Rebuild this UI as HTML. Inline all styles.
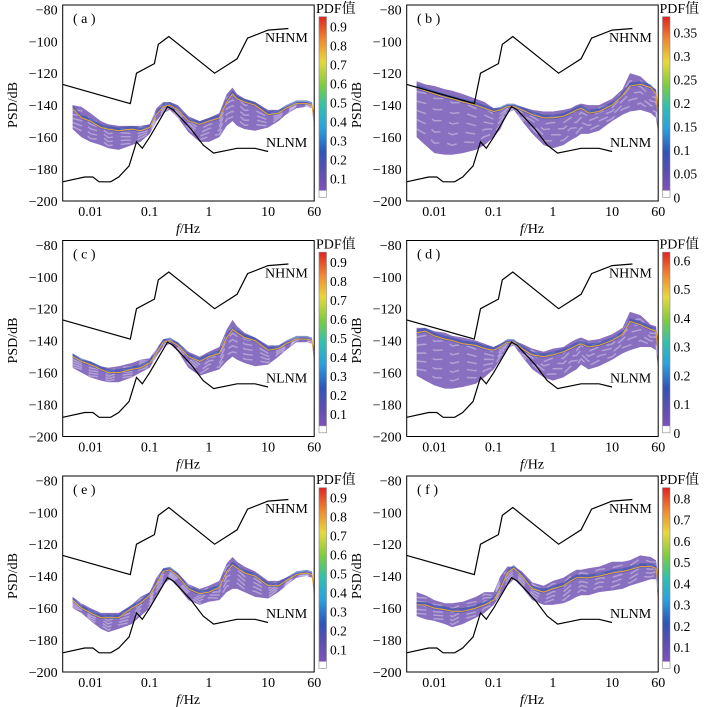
<!DOCTYPE html>
<html><head><meta charset="utf-8">
<style>
body{margin:0;background:#fff;}
svg{display:block;font-family:"Liberation Serif","Noto Serif CJK SC",serif;}
</style></head>
<body>
<svg id="fig" width="717" height="707" viewBox="0 0 717 707" xmlns="http://www.w3.org/2000/svg">
<defs>
<linearGradient id="cbg" x1="0" y1="1" x2="0" y2="0">
<stop offset="0" stop-color="#ffffff"/><stop offset="0.035" stop-color="#ffffff"/>
<stop offset="0.04" stop-color="#7a52b8"/><stop offset="0.15" stop-color="#5a4fb0"/>
<stop offset="0.25" stop-color="#2f55b8"/><stop offset="0.38" stop-color="#2aa0e0"/>
<stop offset="0.5" stop-color="#30c0b0"/><stop offset="0.62" stop-color="#7ccc40"/>
<stop offset="0.75" stop-color="#e8d83a"/><stop offset="0.87" stop-color="#f08a30"/>
<stop offset="1" stop-color="#e02424"/>
</linearGradient>
</defs>
</svg>
<script>
const freqs=[0.005,0.007,0.01,0.015,0.02,0.03,0.05,0.07,0.1,0.13,0.17,0.22,0.3,0.45,0.7,1,1.5,2,2.5,3,4,6,10,15,20,30,45,55,60];
const nhnmF=[0.0034,0.047,0.06,0.12,0.14,0.21,1.25,3,4.5,10,22];
const nhnmV=[-127,-139,-120,-114,-102,-97,-120,-111,-98,-93,-92];
const nlnmF=[0.0034,0.008,0.011,0.014,0.022,0.03,0.045,0.06,0.075,0.1,0.2,0.25,0.5,0.8,1.2,3,6,10];
const nlnmV=[-188,-185,-185,-188,-188,-185,-178,-163,-167,-160,-141,-143,-155,-165,-170,-167,-167,-169];
const xTicks=[0.01,0.1,1,10,60];
const xTickLabels=["0.01","0.1","1","10","60"];
const yTicks=[-80,-100,-120,-140,-160,-180,-200];
const panelLabels=["a","b","c","d","e","f"];
const cbMax=[0.953,0.383,0.953,0.628,0.953,0.85];
const cbTicksA=[0.1,0.2,0.3,0.4,0.5,0.6,0.7,0.8,0.9];
const cbTicksB=[0,0.05,0.1,0.15,0.2,0.25,0.3,0.35];
const cbTicksD=[0,0.1,0.2,0.3,0.4,0.5,0.6];
const cbTicksF=[0,0.1,0.2,0.3,0.4,0.5,0.6,0.7,0.8];
const modeA=[-142,-148,-150,-154,-155,-156,-155,-156,-154,-146,-141,-140,-143,-150,-152,-150,-148,-138,-133,-136,-138,-140,-146,-145,-142,-139,-139,-140,-150];
const upA=[-140,-141,-145,-150,-152,-153,-153,-153,-152,-142,-138,-138,-140,-147,-150,-148,-145,-133,-129,-133,-136,-138,-143,-143,-141,-138,-138,-139,-145];
const loA=[-155,-160,-163,-165,-167,-168,-165,-163,-158,-150,-145,-143,-148,-157,-163,-163,-160,-153,-150,-153,-155,-156,-154,-150,-146,-142,-141,-142,-155];
const modeB=[-129,-131,-133,-135,-136,-138,-140,-142,-144,-143,-141,-141,-143,-146,-148,-148,-147,-145,-143,-142,-145,-144,-140,-134,-128,-127,-129,-133,-150];
const upB=[-125,-127,-128,-130,-131,-133,-136,-138,-142,-142,-140,-140,-141,-143,-144,-144,-143,-142,-140,-139,-140,-140,-136,-130,-120,-122,-128,-130,-140];
const loB=[-160,-165,-170,-171,-171,-170,-168,-165,-160,-155,-145,-143,-150,-158,-165,-167,-165,-162,-160,-158,-158,-156,-150,-146,-144,-143,-145,-148,-158];
const modeC=[-150,-153,-155,-158,-160,-160,-158,-157,-154,-148,-141,-140,-143,-150,-153,-150,-148,-138,-133,-135,-138,-140,-146,-145,-142,-139,-139,-140,-150];
const upC=[-148,-152,-153,-156,-157,-156,-154,-152,-151,-145,-139,-139,-141,-147,-150,-147,-144,-133,-127,-131,-135,-138,-143,-143,-141,-138,-138,-139,-145];
const loC=[-157,-160,-163,-165,-166,-166,-163,-160,-157,-150,-144,-142,-147,-157,-162,-160,-158,-153,-150,-152,-154,-156,-155,-150,-146,-141,-141,-142,-153];
const modeD=[-135,-134,-137,-139,-140,-142,-143,-145,-146,-144,-141,-141,-145,-149,-150,-149,-147,-145,-143,-142,-144,-143,-140,-136,-128,-130,-133,-134,-150];
const upD=[-132,-132,-134,-135,-137,-138,-140,-142,-144,-142,-140,-140,-142,-145,-147,-145,-144,-141,-139,-138,-140,-139,-136,-132,-122,-124,-130,-131,-140];
const loD=[-162,-165,-168,-170,-170,-169,-167,-163,-158,-152,-145,-143,-150,-158,-163,-165,-163,-160,-158,-155,-158,-156,-152,-148,-146,-144,-144,-146,-157];
const modeE=[-155,-160,-163,-166,-166,-166,-160,-157,-152,-145,-137,-136,-140,-148,-151,-150,-147,-137,-133,-135,-138,-140,-146,-146,-143,-139,-138,-139,-150];
const upE=[-153,-157,-160,-163,-163,-163,-158,-153,-150,-141,-135,-135,-138,-145,-148,-146,-143,-132,-128,-131,-134,-137,-143,-143,-141,-138,-137,-138,-145];
const loE=[-160,-163,-168,-173,-175,-173,-170,-165,-160,-152,-145,-142,-147,-155,-158,-156,-155,-150,-148,-148,-150,-153,-154,-150,-146,-141,-140,-141,-153];
const modeF=[-158,-158,-160,-161,-162,-162,-160,-158,-155,-148,-138,-135,-140,-148,-150,-148,-146,-143,-141,-141,-141,-140,-138,-137,-136,-134,-134,-135,-145];
const upF=[-150,-152,-155,-157,-157,-156,-153,-150,-150,-140,-134,-134,-137,-144,-146,-143,-141,-138,-136,-136,-135,-134,-131,-131,-130,-127,-128,-130,-140];
const loF=[-165,-167,-168,-170,-172,-170,-166,-163,-158,-152,-146,-142,-147,-155,-158,-158,-157,-155,-153,-152,-152,-150,-149,-148,-146,-144,-142,-142,-155];

const modes=[modeA,modeB,modeC,modeD,modeE,modeF];
const ups=[upA,upB,upC,upD,upE,upF];
const los=[loA,loB,loC,loD,loE,loF];
const cbTicks=[cbTicksA,cbTicksB,cbTicksA,cbTicksD,cbTicksA,cbTicksF];

const NS="http://www.w3.org/2000/svg";
const svg=document.getElementById('fig');
function mk(tag,attrs,parent){const e=document.createElementNS(NS,tag);for(const k in attrs)e.setAttribute(k,attrs[k]);parent.appendChild(e);return e;}

const panels=[{ox:0,oy:0},{ox:344,oy:0},{ox:0,oy:235.5},{ox:344,oy:235.5},{ox:0,oy:471},{ox:344,oy:471}];
const plotL=62.7, plotR=314.2, plotT=5, plotB=201;
function xs(f){const l0=Math.log10(0.0034), l1=Math.log10(60);return plotL+(Math.log10(f)-l0)/(l1-l0)*(plotR-plotL);}
function ys(v){return 9.3+(-80-v)/120*(201-9.3);}
function pts(fa,va){return fa.map((f,i)=>xs(f).toFixed(1)+','+ys(va[i]).toFixed(1)).join(' ');}

panels.forEach((p,k)=>{
  const g=mk('g',{transform:`translate(${p.ox},${p.oy})`},svg);
  
  
  const band=mk('polygon',{points:pts(freqs,ups[k])+' '+pts(freqs.slice().reverse(),los[k].slice().reverse()),fill:'#7456b4','fill-opacity':'0.85'},g);
  
  
  for(let s=1;s<6;s++){
    const fr=s/6;
    const sv=freqs.map((f,i)=>ups[k][i]+(los[k][i]-ups[k][i])*fr+(i%2?1:-1)*0.8);
    const st=mk('polyline',{points:pts(freqs,sv),fill:'none',stroke:'#fff','stroke-width':'1.5','stroke-opacity':'0.35','stroke-dasharray':'10 8'},g);
    
    
  }
  const cu=freqs.map((f,i)=>modes[k][i]-0.8), cl=freqs.map((f,i)=>modes[k][i]+2);
  const core=mk('polygon',{points:pts(freqs,cu)+' '+pts(freqs.slice().reverse(),cl.slice().reverse()),fill:'#2f50a8','fill-opacity':'0.6'},g);
  
  
  const ml=mk('polyline',{points:pts(freqs,modes[k]),fill:'none',stroke:'#eea53c','stroke-width':'1'},g);
  
  
  const hn=mk('polyline',{points:pts(nhnmF,nhnmV),fill:'none',stroke:'#000','stroke-width':'1.2'},g);
  
  
  const ln=mk('polyline',{points:pts(nlnmF,nlnmV),fill:'none',stroke:'#000','stroke-width':'1.2'},g);
  
  
  const fr=mk('rect',{x:plotL,y:plotT,width:plotR-plotL,height:plotB-plotT,fill:'none',stroke:'#000','stroke-width':'1'},g);
  
  
  yTicks.forEach(v=>{
    const t=mk('text',{x:plotL-5,y:ys(v)+5,'text-anchor':'end','font-size':'14'},g);
    t.textContent='\u2212'+Math.abs(v);
    
    
  });
  xTicks.forEach((f,i)=>{
    const t=mk('text',{x:xs(f),y:216,'text-anchor':'middle','font-size':'14'},g);
    t.textContent=xTickLabels[i];
    
    
  });
  const xl=mk('text',{x:188,y:233,'text-anchor':'middle','font-size':'14'},g);
  xl.innerHTML='<tspan font-style="italic">f</tspan>/Hz';
  
  
  const yl=mk('text',{x:0,y:0,'text-anchor':'middle','font-size':'14','transform':'translate(17,105) rotate(-90)'},g);
  yl.textContent='PSD/dB';
  
  
  const pl=mk('text',{x:73,y:23,'font-size':'14'},g);
  pl.textContent='( '+panelLabels[k]+' )';
  
  
  const nh=mk('text',{x:265,y:42,'font-size':'14'},g);
  nh.textContent='NHNM';
  
  
  const nlt=mk('text',{x:266,y:147,'font-size':'14'},g);
  nlt.textContent='NLNM';
  
  
  const cbx=319+(k%2?-0.5:0), cbT=16.7, cbB=197.3;
  const cb=mk('rect',{x:cbx,y:cbT,width:7.5,height:cbB-cbT,fill:'url(#cbg)',stroke:'#888','stroke-width':'0.6'},g);
  
  
  const ct=mk('text',{x:cbx-3,y:13,'font-size':'14'},g);
  ct.textContent='PDF值';
  
  
  cbTicks[k].forEach(v=>{
    const y=cbB-(v/cbMax[k])*(cbB-cbT);
    const t=mk('text',{x:cbx+11,y:y+5,'font-size':'13.5'},g);
    t.textContent=String(v);
    
    
  });
});
</script>
</body></html>
